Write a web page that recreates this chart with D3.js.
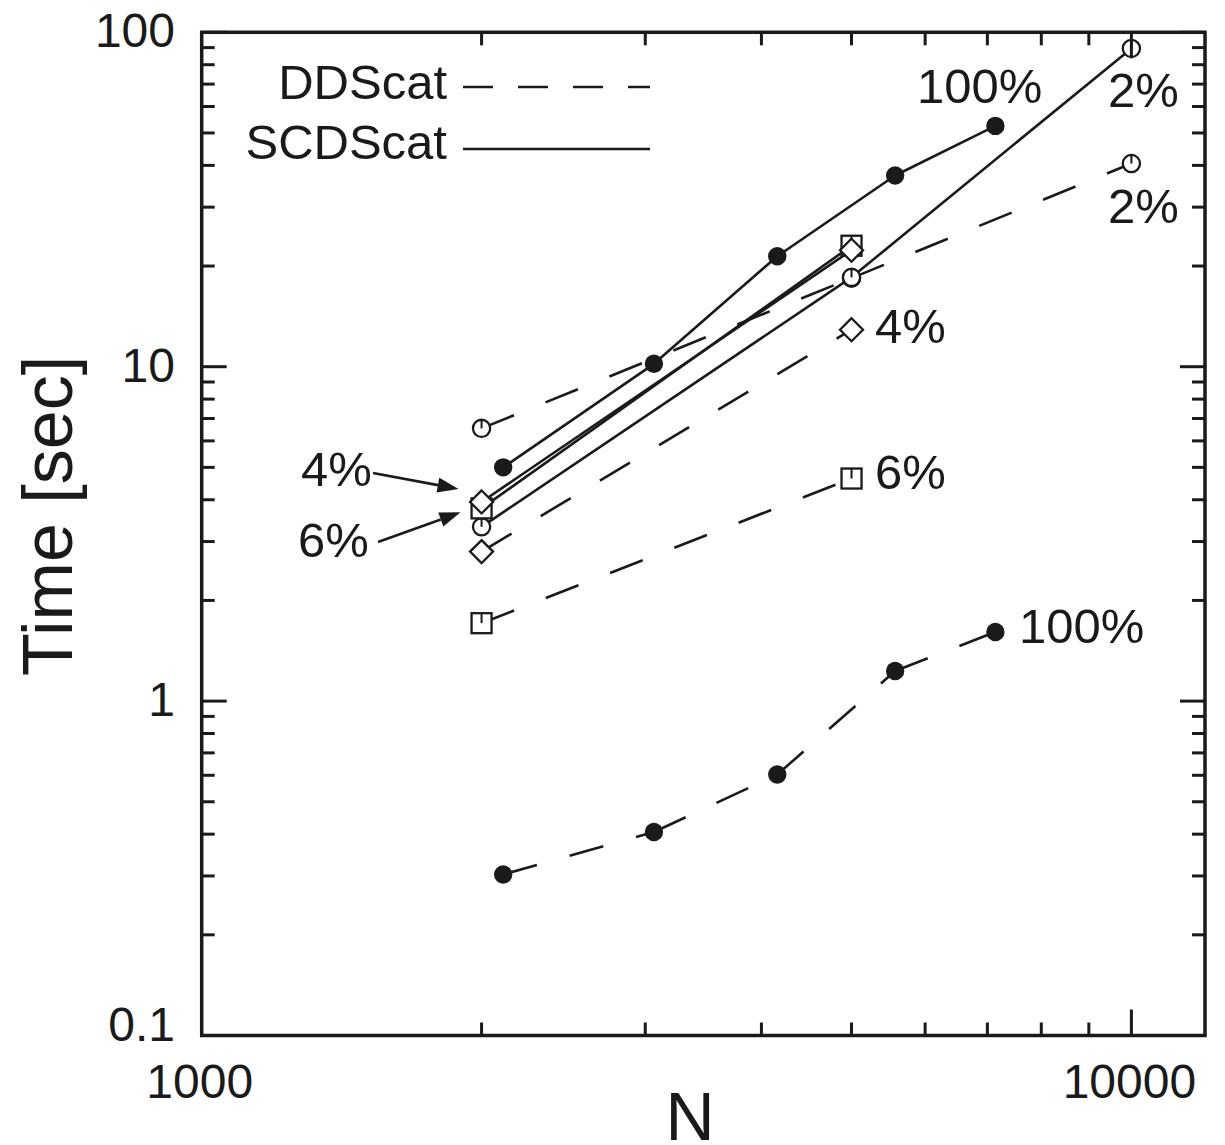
<!DOCTYPE html>
<html>
<head>
<meta charset="utf-8">
<script src="https://cdn.jsdelivr.net/npm/d3@7"></script>
<style>
  html, body { margin: 0; padding: 0; background: #fff; }
  svg { display: block; font-family: "Liberation Sans", Arial, Helvetica, sans-serif; }
</style>
</head>
<body>
<svg id="chart" width="1225" height="1145"></svg>
<script>
// Number of dipoles N for the full-volume runs and for the partial-filling runs
const nFull = [2110, 3065, 4160, 5570, 7140];
const nFrac = [2000, 5000, 10000];

// Run times in seconds
const scd100 = [5.0, 10.2, 21.4, 37.3, 52.5];
const dd100  = [0.303, 0.406, 0.603, 1.23, 1.61];
const scd2   = [3.32, 18.5, 89.5];
const scd4   = [3.94, 22.3];
const scd6   = [3.77, 23.0];
const dd2    = [6.54, 18.4, 40.5];
const dd4    = [2.80, 12.9];
const dd6    = [1.71, 4.63];

// Axis labelling
const xTickValues = [1000, 10000];
const xTickLabels = ["1000", "10000"];
const yTickValues = [0.1, 1, 10, 100];
const yTickLabels = ["0.1", "1", "10", "100"];
const xTitle = "N";
const yTitle = "Time [sec]";
const legendNames = ["DDScat", "SCDScat"];

// Series table assembled from the arrays above
const series = [
  { n: nFull, t: dd100,  dashed: true,  marker: "filled"  },
  { n: nFrac, t: dd2,    dashed: true,  marker: "circle"  },
  { n: nFrac, t: dd4,    dashed: true,  marker: "diamond" },
  { n: nFrac, t: dd6,    dashed: true,  marker: "square"  },
  { n: nFull, t: scd100, dashed: false, marker: "filled"  },
  { n: nFrac, t: scd2,   dashed: false, marker: "circle"  },
  { n: nFrac, t: scd6,   dashed: false, marker: "square"  },
  { n: nFrac, t: scd4,   dashed: false, marker: "diamond" }
].map(s => ({ ...s, pts: s.t.map((v, i) => [s.n[i], v]) }));

const svg = d3.select("#chart");
const x = d3.scaleLog().domain([1000, 12000]).range([201.7, 1205]);
const y = d3.scaleLog().domain([0.1, 100]).range([1035.5, 32.3]);

const ink = "#1a1a1a";
const lineW = 2.6;
const dataDash = "35,34";

// ---- data lines ----
const gLines = svg.append("g");
series.forEach(s => {
  if (s.dashed) {
    // dash pattern restarts at each vertex
    for (let i = 0; i < s.pts.length - 1; i++) {
      gLines.append("line")
        .attr("x1", x(s.pts[i][0])).attr("y1", y(s.pts[i][1]))
        .attr("x2", x(s.pts[i + 1][0])).attr("y2", y(s.pts[i + 1][1]))
        .attr("stroke", ink).attr("stroke-width", lineW)
        .attr("stroke-dasharray", dataDash);
    }
  } else {
    gLines.append("path")
      .datum(s.pts)
      .attr("d", d3.line().x(d => x(d[0])).y(d => y(d[1])))
      .attr("fill", "none").attr("stroke", ink).attr("stroke-width", lineW)
      .attr("stroke-linejoin", "round");
  }
});

// ---- markers ----
const gMarks = svg.append("g");
function drawMarker(kind, cx, cy) {
  const g = gMarks.append("g").attr("transform", `translate(${cx},${cy})`);
  if (kind === "filled") {
    g.append("circle").attr("r", 9.2).attr("fill", ink);
  } else if (kind === "circle") {
    g.append("circle").attr("r", 8.6).attr("fill", "#fff").attr("stroke", ink).attr("stroke-width", 2.3);
    g.append("line").attr("x1", 0).attr("y1", -8.6).attr("x2", 0).attr("y2", 0)
      .attr("stroke", ink).attr("stroke-width", 2);
  } else if (kind === "diamond") {
    g.append("path").attr("d", "M0,-11.5L11.5,0L0,11.5L-11.5,0Z")
      .attr("fill", "#fff").attr("stroke", ink).attr("stroke-width", 2.3);
  } else if (kind === "square") {
    g.append("rect").attr("x", -10).attr("y", -10).attr("width", 20).attr("height", 20)
      .attr("fill", "#fff").attr("stroke", ink).attr("stroke-width", 2.3);
    g.append("line").attr("x1", 0).attr("y1", -10).attr("x2", 0).attr("y2", 0)
      .attr("stroke", ink).attr("stroke-width", 2);
  }
}
series.forEach(s => s.pts.forEach(p => drawMarker(s.marker, x(p[0]), y(p[1]))));

// ---- frame and ticks ----
const x0 = x.range()[0], x1 = x.range()[1];
const y0 = y.range()[0], y1 = y.range()[1];
const isMajor = v => Math.abs(Math.log10(v) - Math.round(Math.log10(v))) < 1e-9;
const gAxis = svg.append("g").attr("stroke", ink).attr("stroke-width", 3);

y.ticks().forEach(v => {
  const len = isMajor(v) ? 25 : 13;
  const yy = y(v);
  gAxis.append("line").attr("x1", x0).attr("x2", x0 + len).attr("y1", yy).attr("y2", yy);
  gAxis.append("line").attr("x1", x1).attr("x2", x1 - len).attr("y1", yy).attr("y2", yy);
});
x.ticks().filter(v => v > 1000).forEach(v => {
  const len = isMajor(v) ? 26 : 13;
  const xx = x(v);
  gAxis.append("line").attr("x1", xx).attr("x2", xx).attr("y1", y0).attr("y2", y0 - len);
  gAxis.append("line").attr("x1", xx).attr("x2", xx).attr("y1", y1).attr("y2", y1 + len);
});
svg.append("rect")
  .attr("x", x0).attr("y", y1).attr("width", x1 - x0).attr("height", y0 - y1)
  .attr("fill", "none").attr("stroke", ink).attr("stroke-width", 3.5);

// ---- tick labels ----
const tickFont = 48;
yTickValues.forEach((v, i) => {
  svg.append("text")
    .attr("x", 175).attr("y", y(v) + (v === 0.1 ? 5 : 15))
    .attr("text-anchor", "end").attr("font-size", tickFont).attr("fill", ink)
    .text(yTickLabels[i]);
});
xTickValues.forEach((v, i) => {
  svg.append("text")
    .attr("x", x(v) - 2).attr("y", 1098)
    .attr("text-anchor", "middle").attr("font-size", tickFont).attr("fill", ink)
    .text(xTickLabels[i]);
});

// ---- axis titles ----
svg.append("text").attr("x", 690).attr("y", 1140)
  .attr("text-anchor", "middle").attr("font-size", 68).attr("fill", ink).text(xTitle);
svg.append("text").attr("transform", "translate(72,516) rotate(-90)")
  .attr("text-anchor", "middle").attr("font-size", 70).attr("fill", ink).text(yTitle);

// ---- legend ----
const legFont = 49;
svg.append("text").attr("x", 447).attr("y", 99).attr("text-anchor", "end")
  .attr("font-size", legFont).attr("fill", ink).text(legendNames[0]);
svg.append("line").attr("x1", 463).attr("x2", 650).attr("y1", 87).attr("y2", 87)
  .attr("stroke", ink).attr("stroke-width", lineW).attr("stroke-dasharray", "30,25");
svg.append("text").attr("x", 447).attr("y", 159).attr("text-anchor", "end")
  .attr("font-size", legFont).attr("fill", ink).text(legendNames[1]);
svg.append("line").attr("x1", 463).attr("x2", 650).attr("y1", 149).attr("y2", 149)
  .attr("stroke", ink).attr("stroke-width", lineW);

// ---- series annotations ----
const notes = [
  { text: "100%", x: 917,  y: 103 },
  { text: "2%",   x: 1108, y: 107 },
  { text: "2%",   x: 1108, y: 223 },
  { text: "4%",   x: 875,  y: 343 },
  { text: "6%",   x: 875,  y: 489 },
  { text: "100%", x: 1019, y: 643 },
  { text: "4%",   x: 301,  y: 486 },
  { text: "6%",   x: 298,  y: 557 }
];
notes.forEach(n => svg.append("text").attr("x", n.x).attr("y", n.y)
  .attr("font-size", legFont).attr("fill", ink).text(n.text));

// arrows pointing at the N = 2000 cluster
function arrow(xs, ys, xt, yt) {
  const ang = Math.atan2(yt - ys, xt - xs);
  const L = 21, w = 7.5;
  const bx = xt - L * Math.cos(ang), by = yt - L * Math.sin(ang);
  svg.append("line").attr("x1", xs).attr("y1", ys).attr("x2", bx).attr("y2", by)
    .attr("stroke", ink).attr("stroke-width", lineW);
  const px = -Math.sin(ang) * w, py = Math.cos(ang) * w;
  svg.append("path")
    .attr("d", `M${xt},${yt}L${bx + px},${by + py}L${bx - px},${by - py}Z`)
    .attr("fill", ink);
}
arrow(373, 473, x(2000) - 23, y(scd4[0]) - 13);
arrow(378, 542, x(2000) - 21, y(scd6[0]) + 4);
</script>
</body>
</html>
